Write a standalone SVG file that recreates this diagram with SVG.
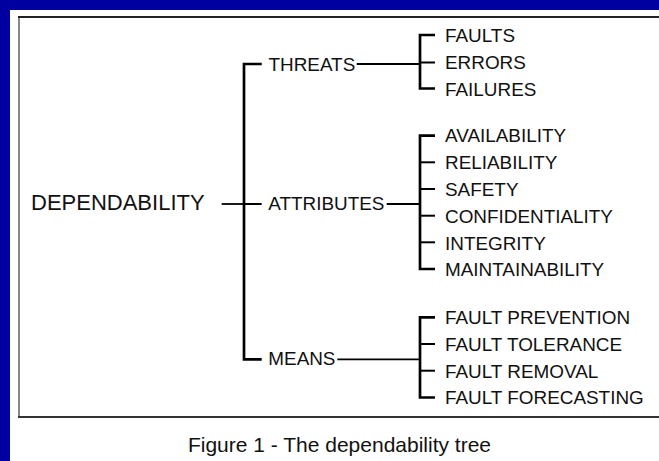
<svg xmlns="http://www.w3.org/2000/svg" width="659" height="461" viewBox="0 0 659 461">
<style>
text{font-family:"Liberation Sans",Arial,sans-serif;fill:#111}
.item{font-size:18.9px}
.root{font-size:22px}
.cap{font-size:21px}
.br{stroke:#000;stroke-width:2.7;fill:none}
.tk{stroke:#000;stroke-width:2;fill:none}
.ln{stroke:#000;stroke-width:1.8;fill:none}
</style>
<rect x="0" y="0" width="659" height="461" fill="#fff"/>
<rect x="0" y="0" width="659" height="10" fill="#0000A0"/>
<rect x="0" y="0" width="10" height="461" fill="#0000A0"/>
<g id="frame">
<line x1="19" y1="17" x2="19" y2="417" stroke="#888" stroke-width="2"/>
<line x1="18" y1="17" x2="659" y2="17" stroke="#222" stroke-width="2"/>
<line x1="18" y1="417" x2="659" y2="417" stroke="#333" stroke-width="2"/>
</g>
<g id="connectors">
<line class="ln" x1="221.7" y1="204" x2="244" y2="204" stroke-width="1.5"/>
<path class="br" d="M261.7,64 H244 V359.3 H261.7"/>
<line class="tk" x1="244" y1="204" x2="261.7" y2="204"/>
<line class="ln" x1="356.7" y1="64" x2="420" y2="64"/>
<line class="ln" x1="386.7" y1="204" x2="420" y2="204"/>
<line class="ln" x1="337.3" y1="359.3" x2="420" y2="359.3"/>
<path class="br" d="M435,35 H420 V88.5 H435"/>
<line class="tk" x1="420" y1="62.5" x2="435" y2="62.5"/>
<path class="br" d="M435,135.7 H420 V269 H435"/>
<line class="tk" x1="420" y1="162.3" x2="435" y2="162.3"/>
<line class="tk" x1="420" y1="189" x2="435" y2="189"/>
<line class="tk" x1="420" y1="215.7" x2="435" y2="215.7"/>
<line class="tk" x1="420" y1="242.3" x2="435" y2="242.3"/>
<path class="br" d="M435,317.3 H420 V397.5 H435"/>
<line class="tk" x1="420" y1="344" x2="435" y2="344"/>
<line class="tk" x1="420" y1="370.7" x2="435" y2="370.7"/>
</g>
<g id="dependability"><text class="root" x="31" y="210">DEPENDABILITY</text></g>
<g id="threats"><text class="item" x="268.5" y="70.5">THREATS</text></g>
<g id="attributes"><text class="item" x="268.3" y="209.5">ATTRIBUTES</text></g>
<g id="means"><text class="item" x="268.3" y="365">MEANS</text></g>
<g id="faults"><text class="item" x="445" y="41.7">FAULTS</text></g>
<g id="errors"><text class="item" x="445" y="68.5">ERRORS</text></g>
<g id="failures"><text class="item" x="445" y="95.5">FAILURES</text></g>
<g id="availability"><text class="item" x="445" y="142.3">AVAILABILITY</text></g>
<g id="reliability"><text class="item" x="445" y="169">RELIABILITY</text></g>
<g id="safety"><text class="item" x="445" y="196">SAFETY</text></g>
<g id="confidentiality"><text class="item" x="445" y="222.8">CONFIDENTIALITY</text></g>
<g id="integrity"><text class="item" x="445" y="249.5">INTEGRITY</text></g>
<g id="maintainability"><text class="item" x="445" y="276.3">MAINTAINABILITY</text></g>
<g id="fault-prevention"><text class="item" x="445" y="324">FAULT PREVENTION</text></g>
<g id="fault-tolerance"><text class="item" x="445" y="350.7">FAULT TOLERANCE</text></g>
<g id="fault-removal"><text class="item" x="445" y="377.5">FAULT REMOVAL</text></g>
<g id="fault-forecasting"><text class="item" x="445" y="404.3">FAULT FORECASTING</text></g>
<g id="caption"><text class="cap" x="339.5" y="451.5" text-anchor="middle">Figure 1 - The dependability tree</text></g>
</svg>
